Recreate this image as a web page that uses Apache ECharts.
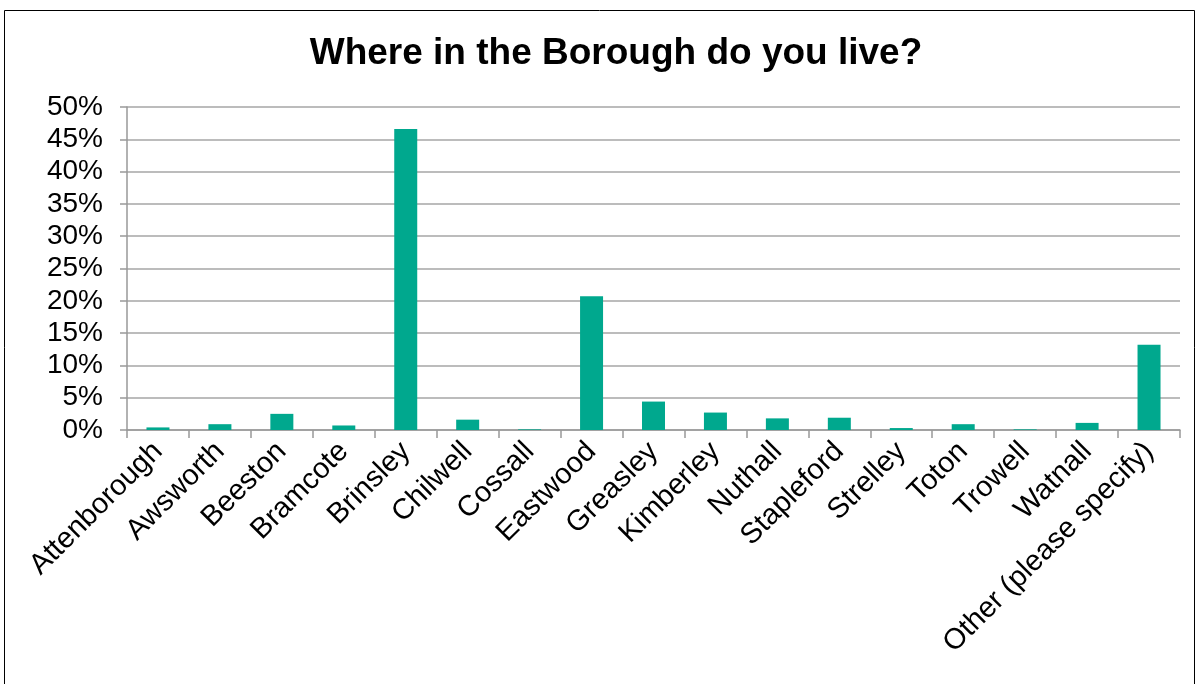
<!DOCTYPE html>
<html><head><meta charset="utf-8">
<script src="https://cdn.jsdelivr.net/npm/echarts@6/dist/echarts.min.js"></script>
<style>html,body{margin:0;padding:0;background:#fff}#c{width:1198px;height:684px}</style>
</head><body><div id="c"></div>
<script>
const categories = ['Attenborough','Awsworth','Beeston','Bramcote','Brinsley','Chilwell','Cossall','Eastwood','Greasley','Kimberley','Nuthall','Stapleford','Strelley','Toton','Trowell','Watnall','Other (please specify)'];
const values = [0.4, 0.9, 2.5, 0.7, 46.6, 1.6, 0.1, 20.7, 4.4, 2.7, 1.8, 1.9, 0.3, 0.9, 0.1, 1.1, 13.2];
const chart = echarts.init(document.getElementById('c'));
chart.setOption({
  animation:false,
  title:{text:'Where in the Borough do you live?',left:611,textAlign:'center',top:30,
    textStyle:{fontFamily:'Liberation Sans',fontWeight:'bold',fontSize:37,color:'#000'}},
  graphic:[{type:'rect',shape:{x:4.5,y:10.5,width:1190,height:700},style:{fill:'none',stroke:'#000',lineWidth:1},silent:true}],
  grid:{left:127,right:18,top:107,bottom:254,containLabel:false},
  xAxis:{type:'category',data:categories,
    axisLine:{lineStyle:{color:'#999',width:1.5}},
    axisTick:{show:true,length:8,lineStyle:{color:'#999',width:1.5},alignWithLabel:false},
    axisLabel:{rotate:45,interval:0,fontFamily:'Liberation Sans',fontSize:29,color:'#000',margin:17}},
  yAxis:{type:'value',min:0,max:50,interval:5,
    axisLine:{show:true,lineStyle:{color:'#999',width:1.5}},
    axisTick:{show:true,length:7,lineStyle:{color:'#999',width:1.5}},
    splitLine:{lineStyle:{color:'#a6a6a6',width:1.5}},
    axisLabel:{formatter:'{value}%',fontFamily:'Liberation Sans',fontSize:28,color:'#000',margin:24}},
  series:[{type:'bar',data:values,barWidth:23,itemStyle:{color:'#00A88E'}}]
});
</script></body></html>
